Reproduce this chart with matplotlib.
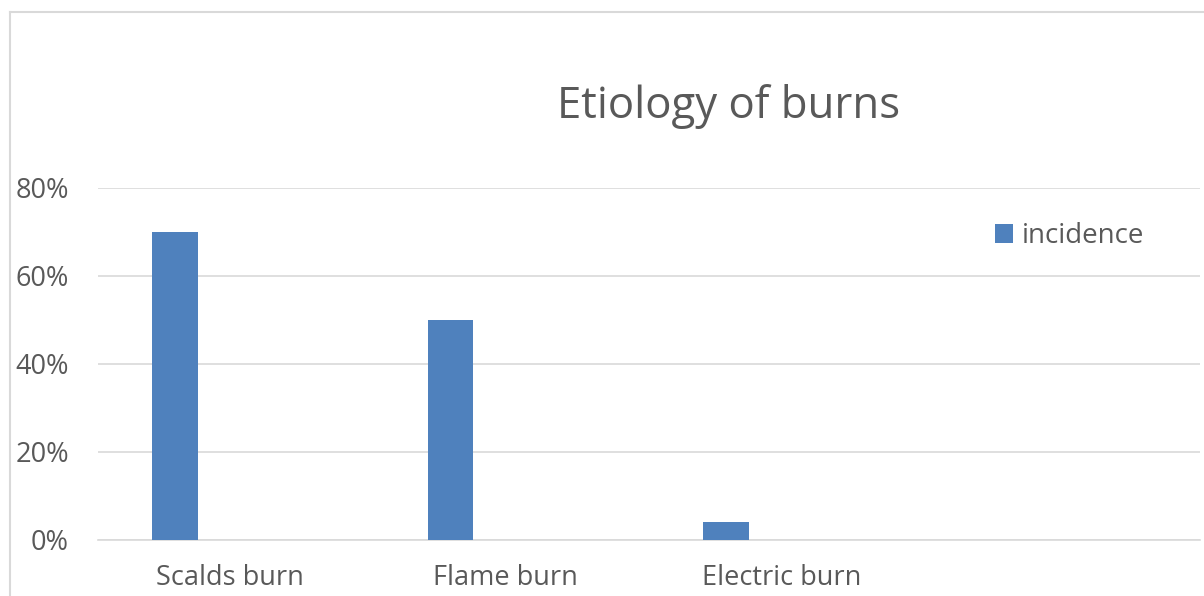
import matplotlib
matplotlib.use("Agg")
import matplotlib.pyplot as plt
from matplotlib.lines import Line2D
from matplotlib.patches import Patch
from matplotlib.ticker import FuncFormatter

categories = ["Scalds burn", "Flame burn", "Electric burn", ""]
incidence = [0.70, 0.50, 0.04]
yticks = [0, 0.2, 0.4, 0.6, 0.8]

bar_color = "#4F81BD"
text_color = "#595959"
grid_color = "#D9D9D9"

plt.rcParams["font.family"] = ["Open Sans", "DejaVu Sans"]

fig = plt.figure(figsize=(12.04, 5.96), dpi=100)

# chart area frame (left and top edges)
fig.add_artist(Line2D([10 / 1204, 10 / 1204], [0, 1 - 12 / 596],
                      transform=fig.transFigure, color=grid_color, lw=1.5))
fig.add_artist(Line2D([10 / 1204, 1], [1 - 12 / 596, 1 - 12 / 596],
                      transform=fig.transFigure, color=grid_color, lw=1.5))

ax = fig.add_axes([98 / 1204, 1 - 540 / 596, 1102 / 1204, 352 / 596])

# first series of a clustered layout sits left of each category centre
x = [i - 0.22 for i in range(len(incidence))]
ax.bar(x, incidence, width=0.165, color=bar_color, zorder=3)

ax.set_xlim(-0.5, len(categories) - 0.5)
ax.set_ylim(0, 0.8)
ax.set_yticks(yticks)
ax.yaxis.set_major_formatter(FuncFormatter(lambda v, p: f"{v * 100:.0f}%"))
ax.set_xticks([i - 0.02 for i in range(len(categories))])
ax.set_xticklabels(categories)

ax.grid(axis="y", color=grid_color, lw=1.2, zorder=0)
for s in ["top", "right", "left"]:
    ax.spines[s].set_visible(False)
ax.spines["bottom"].set_color(grid_color)
ax.spines["bottom"].set_linewidth(1.2)
ax.tick_params(axis="both", length=0, colors=text_color, labelsize=19.5)
ax.tick_params(axis="x", pad=17)
ax.tick_params(axis="y", pad=21)

fig.text(729 / 1204, 1 - 118 / 596, "Etiology of burns", ha="center", va="baseline",
         fontsize=31.5, color=text_color)

ax.legend(handles=[Patch(facecolor=bar_color, label="incidence")],
          loc="center left", bbox_to_anchor=((995 - 98) / 1102, (540 - 236) / 352),
          frameon=False, fontsize=20, labelcolor=text_color,
          borderaxespad=0, borderpad=0,
          handlelength=0.65, handleheight=0.65, handletextpad=0.33)

fig.savefig("out.png", dpi=100, facecolor="white")
